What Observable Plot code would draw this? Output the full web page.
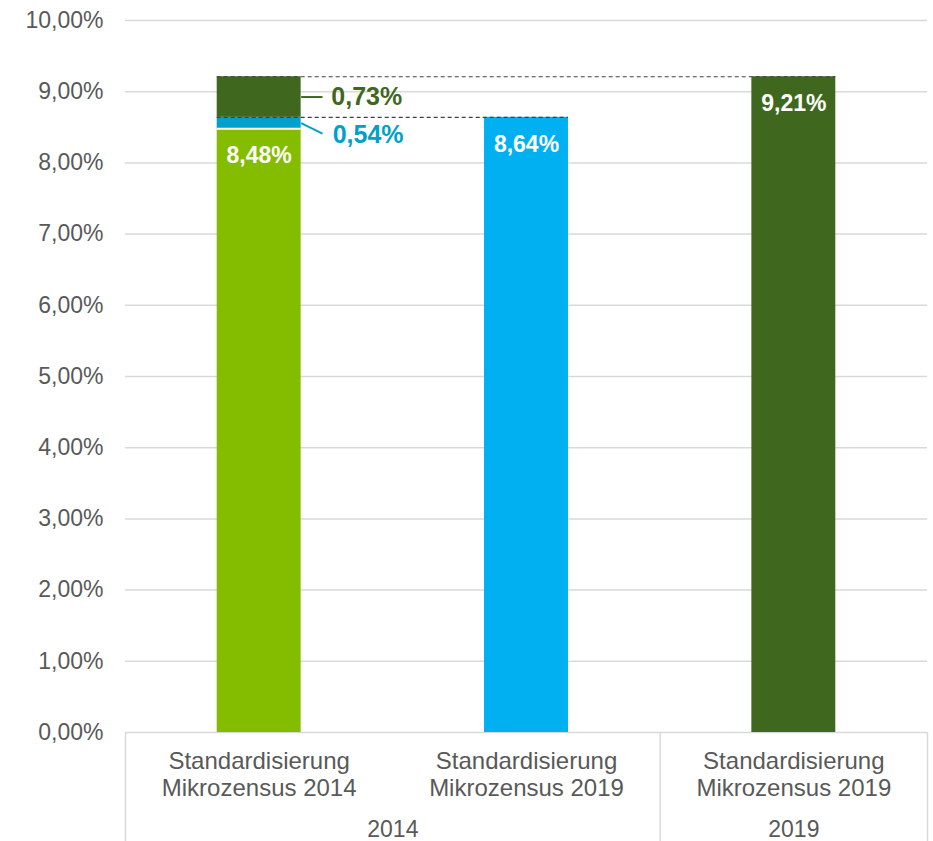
<!DOCTYPE html>
<html>
<head>
<meta charset="utf-8">
<script src="https://cdn.jsdelivr.net/npm/d3@7"></script>
<script src="https://cdn.jsdelivr.net/npm/@observablehq/plot@0.6"></script>
<style>
  html, body { margin: 0; padding: 0; background: #fff; }
  #chart { width: 933px; height: 841px; }
</style>
</head>
<body>
<div id="chart"></div>
<script>
// ---- data ----
const categories = ["Standardisierung\nMikrozensus 2014", "Standardisierung\nMikrozensus 2019", "Standardisierung\nMikrozensus 2019"];
const groups = ["2014", "2014", "2019"];
const segCategory = [0, 0, 0, 1, 2];
const segValues = [8.48, 0.16, 0.57, 8.64, 9.21];
const segColors = ["#84bc00", "#00a0cc", "#3f681e", "#00b0f0", "#3f681e"];
const segLabelled = [true, false, false, true, true];
const deltaLabels = [0.54, 0.73];   // blue, dark green annotation values
const deltaColors = ["#00a0cc", "#3f681e"];
const yTicks = [0, 1, 2, 3, 4, 5, 6, 7, 8, 9, 10];

// ---- build ----
const fmt = v => v.toFixed(2).replace(".", ",") + "%";
const halfW = 0.157;
const cum = {};
const segs = segValues.map((v, i) => {
  const c = segCategory[i];
  const y1 = cum[c] || 0;
  const y2 = y1 + v;
  cum[c] = y2;
  return {c, x1: c + 0.5 - halfW, x2: c + 0.5 + halfW, y1, y2, v, color: segColors[i], lab: segLabelled[i]};
});
const cats = categories.map((label, i) => ({i, label, group: groups[i]}));
const groupList = Array.from(new Set(groups)).map(g => {
  const idx = cats.filter(d => d.group === g).map(d => d.i);
  return {g, start: d3.min(idx), end: d3.max(idx) + 1};
});
const boundaries = [0, ...groupList.map(d => d.end)];

const blue = segs[1], dark = segs[2];
const bar0 = segs[0], bar1 = segs[3], bar2 = segs[4];
const blueMid = (blue.y1 + blue.y2) / 2;
const darkMid = (dark.y1 + dark.y2) / 2;

const annotations = [
  {x1: blue.x2, y1: blueMid, x2: blue.x2 + 0.08, y2: blueMid - 0.15, tx: blue.x2 + 0.118, ty: blueMid - 0.17, text: fmt(deltaLabels[0]), color: deltaColors[0]},
  {x1: dark.x2, y1: darkMid, x2: dark.x2 + 0.08, y2: darkMid, tx: dark.x2 + 0.113, ty: darkMid, text: fmt(deltaLabels[1]), color: deltaColors[1]}
];
const dashes = [
  {x1: bar0.x1, x2: bar2.x2, y: bar2.y2},
  {x1: bar0.x1, x2: bar1.x2, y: bar1.y2}
];

const gray = "#595959";
const chart = Plot.plot({
  width: 933,
  height: 841,
  marginLeft: 125,
  marginRight: 6,
  marginTop: 20,
  marginBottom: 109,
  style: {fontFamily: "Liberation Sans, Arial, sans-serif", background: "#fff"},
  x: {type: "linear", domain: [0, 3], axis: null},
  y: {domain: [0, 10], axis: null},
  marks: [
    Plot.ruleY(yTicks, {x1: 0, x2: 3, stroke: "#d9d9d9", strokeWidth: 1.5}),
    Plot.text(yTicks, {x: 0, y: d => d, text: d => fmt(d), textAnchor: "end", dx: -22, fontSize: 23, fill: gray}),
    Plot.rect(segs, {x1: "x1", x2: "x2", y1: "y1", y2: "y2", fill: "color"}),
    Plot.ruleY([bar0], {x1: "x1", x2: "x2", y: "y2", stroke: "#fff", strokeWidth: 2}),
    Plot.ruleY(dashes, {x1: "x1", x2: "x2", y: "y", stroke: "#404040", strokeWidth: 1.2, strokeDasharray: "4,3"}),
    Plot.text(segs.filter(d => d.lab), {x: d => (d.x1 + d.x2) / 2, y: "y2", text: d => fmt(d.v), fill: "#fff", fontWeight: "bold", fontSize: 23, dy: 27}),
    Plot.link(annotations, {x1: "x1", y1: "y1", x2: "x2", y2: "y2", stroke: "color", strokeWidth: 2}),
    Plot.text(annotations, {x: "tx", y: "ty", text: "text", fill: "color", textAnchor: "start", fontWeight: "bold", fontSize: 25}),
    Plot.ruleX(boundaries, {stroke: "#d9d9d9", strokeWidth: 1.5, insetTop: 712, insetBottom: -109}),
    Plot.text(cats, {x: d => d.i + 0.5, frameAnchor: "bottom", text: "label", lineAnchor: "top", dy: 17, fontSize: 24, lineHeight: 1.14, fill: gray}),
    Plot.text(groupList, {x: d => (d.start + d.end) / 2, frameAnchor: "bottom", text: "g", lineAnchor: "bottom", dy: 104, fontSize: 23, fill: gray})
  ]
});
document.getElementById("chart").appendChild(chart);
</script>
</body>
</html>
